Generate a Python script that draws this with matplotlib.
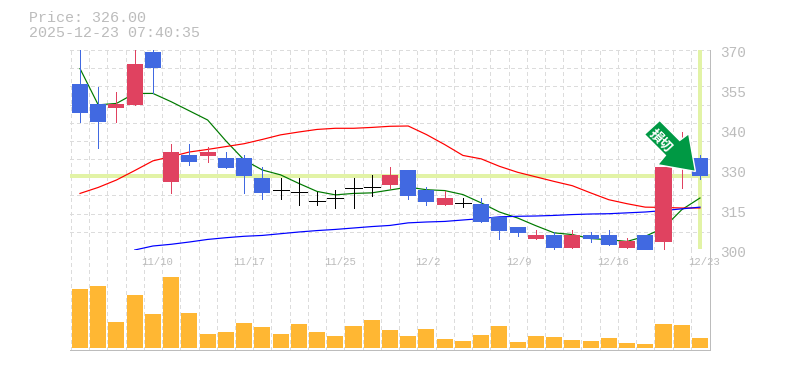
import matplotlib
matplotlib.use('Agg')
import matplotlib.pyplot as plt
import numpy as np
from matplotlib.patches import Polygon
from matplotlib.transforms import Affine2D

plt.rcParams['font.family'] = ['Liberation Mono', 'DejaVu Sans Mono']

# candles, oldest first
opens = [358.1, 351.1, 349.7, 350.8, 369.3, 323.8, 333.3, 332.9, 332.2, 332.2, 325.2, 321.0, 320.3, 317.0, 318.2, 321.7, 322.0, 322.8,
         328.1, 321.1, 315.9, 316.3, 316.2, 311.6, 308.2, 304.0, 305.4, 300.8, 305.4, 305.4, 300.8, 305.4, 302.9, 333.0, 332.3]
closes = [348.0, 344.8, 351.1, 365.1, 363.7, 334.3, 330.8, 334.3, 328.7, 325.9, 320.0, 321.0, 320.3, 317.0, 318.2, 321.7, 322.0, 326.3,
          319.0, 316.9, 318.3, 316.3, 309.9, 306.8, 306.1, 305.4, 300.8, 305.4, 304.0, 301.9, 303.3, 299.8, 329.2, 335.0, 326.0]
highs = [372.0, 357.0, 355.3, 372.0, 372.0, 337.1, 337.1, 336.0, 334.3, 333.3, 329.0, 325.2, 325.2, 320.3, 321.0, 325.2, 326.3, 329.0,
         328.1, 322.2, 320.8, 318.3, 318.3, 311.6, 308.2, 307.1, 306.4, 307.1, 306.4, 307.1, 304.3, 305.4, 329.2, 341.4, 333.4]
lows = [344.8, 335.7, 344.8, 350.8, 354.8, 320.0, 329.8, 330.8, 328.7, 320.0, 317.9, 317.9, 315.8, 315.8, 314.7, 314.7, 318.9, 321.7,
        318.0, 315.9, 315.9, 314.9, 309.9, 304.0, 305.0, 304.0, 299.8, 300.8, 302.9, 301.9, 300.8, 299.8, 299.8, 321.8, 325.0]
ma_short = [363.5, 350.8, 351.3, 354.8, 354.8, 351.9, 348.7, 345.5, 338.2, 331.5, 328.0, 326.3, 323.3, 320.5, 319.3, 319.8, 320.0, 321.0,
            322.0, 321.1, 320.8, 319.4, 316.5, 313.3, 311.2, 308.5, 306.0, 305.4, 304.0, 303.6, 303.0, 304.8, 307.7, 314.1, 318.2]
ma_mid = [319.8, 321.9, 324.5, 327.8, 331.2, 332.7, 334.3, 335.2, 336.2, 337.2, 338.7, 340.3, 341.3, 342.2, 342.6, 342.6, 342.9, 343.3,
          343.4, 340.4, 336.9, 333.1, 331.9, 329.3, 327.2, 325.6, 324.0, 322.5, 320.0, 317.6, 316.2, 315.0, 314.9, 314.7, 314.7]
ma_long = [np.nan, np.nan, np.nan, 300.0, 301.4, 302.0, 302.8, 303.7, 304.3, 304.8, 305.1, 305.7, 306.3, 306.8, 307.2, 307.7, 308.2, 308.6,
           309.5, 309.8, 310.0, 310.5, 311.0, 311.6, 311.8, 311.9, 312.1, 312.4, 312.6, 312.7, 313.0, 313.3, 313.8, 314.4, 315.0]
volume = [59, 62, 26, 53, 34, 71, 35, 14, 16, 25, 21, 14, 24, 16, 12, 22, 28, 18,
          12, 19, 9, 7, 13, 22, 6, 12, 11, 8, 7, 10, 5, 4, 24, 23, 10]

date_pos = [4, 9, 14, 19, 24, 29, 34]
date_labels = ['11/10', '11/17', '11/25', '12/2', '12/9', '12/16', '12/23']
price_ticks = [300, 314, 328, 342, 356, 370]
price_labels = ['300', '315', '330', '340', '355', '370']
last_price = 326.0

GREY = '#bcbcbc'
GRID = '#dcdcdc'
UP = '#e04260'
DOWN = '#4169e1'
W, H = 785, 370
PX = 0.72   # one pixel in points

fig = plt.figure(figsize=(W / 100, H / 100), dpi=100)
ax = fig.add_axes([70 / W, 1 - 250 / H, 640 / W, 200 / H])
ax2 = fig.add_axes([70 / W, 1 - 350 / H, 640 / W, 100 / H])
x = np.arange(len(opens))

for a in (ax, ax2):
    a.set_xlim(-0.548, 34.55)
    a.set_xticks(x - 0.5)
    a.tick_params(length=0, labelbottom=False, labelleft=False)
    a.grid(axis='x', color=GRID, lw=PX, ls=(0, (3, 3)), antialiased=False)
    a.set_axisbelow(True)
    for s in ('top', 'left'):
        a.spines[s].set_visible(False)
    for s in ('bottom', 'right'):
        a.spines[s].set_color(GREY)
        a.spines[s].set_linewidth(PX)
        a.spines[s].set_antialiased(False)

ax.set_ylim(300, 370)
ax.set_yticks(np.linspace(300, 370, 12))
ax.grid(axis='y', color=GRID, lw=PX, ls=(0, (3, 3)), antialiased=False)

# current price cross
ax.axhline(last_price, color='#e2f3a6', lw=3.8 * PX, zorder=1, antialiased=False)
ax.plot([34, 34], [300.5, 370], color='#e2f3a6', lw=3.8 * PX, zorder=1, solid_capstyle='butt', antialiased=False)

ax.plot(x, ma_short, color='#007a00', lw=1.2 * PX, zorder=2)
ax.plot(x, ma_mid, color='#ff0000', lw=1.2 * PX, zorder=2)
ax.plot(x, ma_long, color='#0000ff', lw=1.2 * PX, zorder=2)

for i in x:
    o, c = opens[i], closes[i]
    col = 'black' if o == c else (UP if c > o else DOWN)
    ax.vlines(i, lows[i], highs[i], color=col, lw=PX, zorder=3, antialiased=False)
    if o == c:
        ax.hlines(o, i - 0.44, i + 0.44, color=col, lw=PX, zorder=3, antialiased=False)
    else:
        ax.bar(i, abs(c - o), bottom=min(o, c), width=0.88, color=col, zorder=3, antialiased=False)

# signal arrow, offsets in pixels from its tip
tip = ax.transData.transform((33.75, 327.5))
arrow = [(0, 0), (-6.7, 37.7), (-15.7, 31), (-35.7, 51), (-51, 37), (-30, 16), (-37.7, 6.7)]
to_tip = Affine2D().translate(*tip)
fig.add_artist(Polygon(arrow, closed=True, fc='#009944', ec='white', lw=1.0, joinstyle='miter', transform=to_tip, zorder=5))
fig.text(*(tip + (-35, 31)), '損切', color='white', fontsize=9.5, fontweight='bold', family=['Noto Sans CJK JP'],
         rotation=-45, rotation_mode='anchor', ha='center', va='center', transform=None, zorder=6)

ax2.bar(x, volume, width=0.88, color='#ffb733', zorder=2, antialiased=False)
ax2.set_ylim(-2, 98)

for p, lab in zip(price_ticks, price_labels):
    ax.annotate(lab, xy=(1, p), xycoords=('axes fraction', 'data'), xytext=(10, -3), textcoords='offset pixels',
                color=GREY, fontsize=10.4, ha='left', va='center', annotation_clip=False)
for p, lab in zip(date_pos, date_labels):
    ax2.annotate(lab, xy=(p, 1), xycoords=('data', 'axes fraction'), xytext=(-11.3, -12), textcoords='offset pixels',
                 color=GREY, fontsize=7.7, ha='left', va='center', annotation_clip=False)

fig.text(29 / W, 1 - 18 / H, 'Price: %.2f' % last_price, color=GREY, fontsize=10.8, va='center')
fig.text(29 / W, 1 - 33 / H, '2025-12-23 07:40:35', color=GREY, fontsize=10.8, va='center')

fig.savefig('out.png', dpi=100)
